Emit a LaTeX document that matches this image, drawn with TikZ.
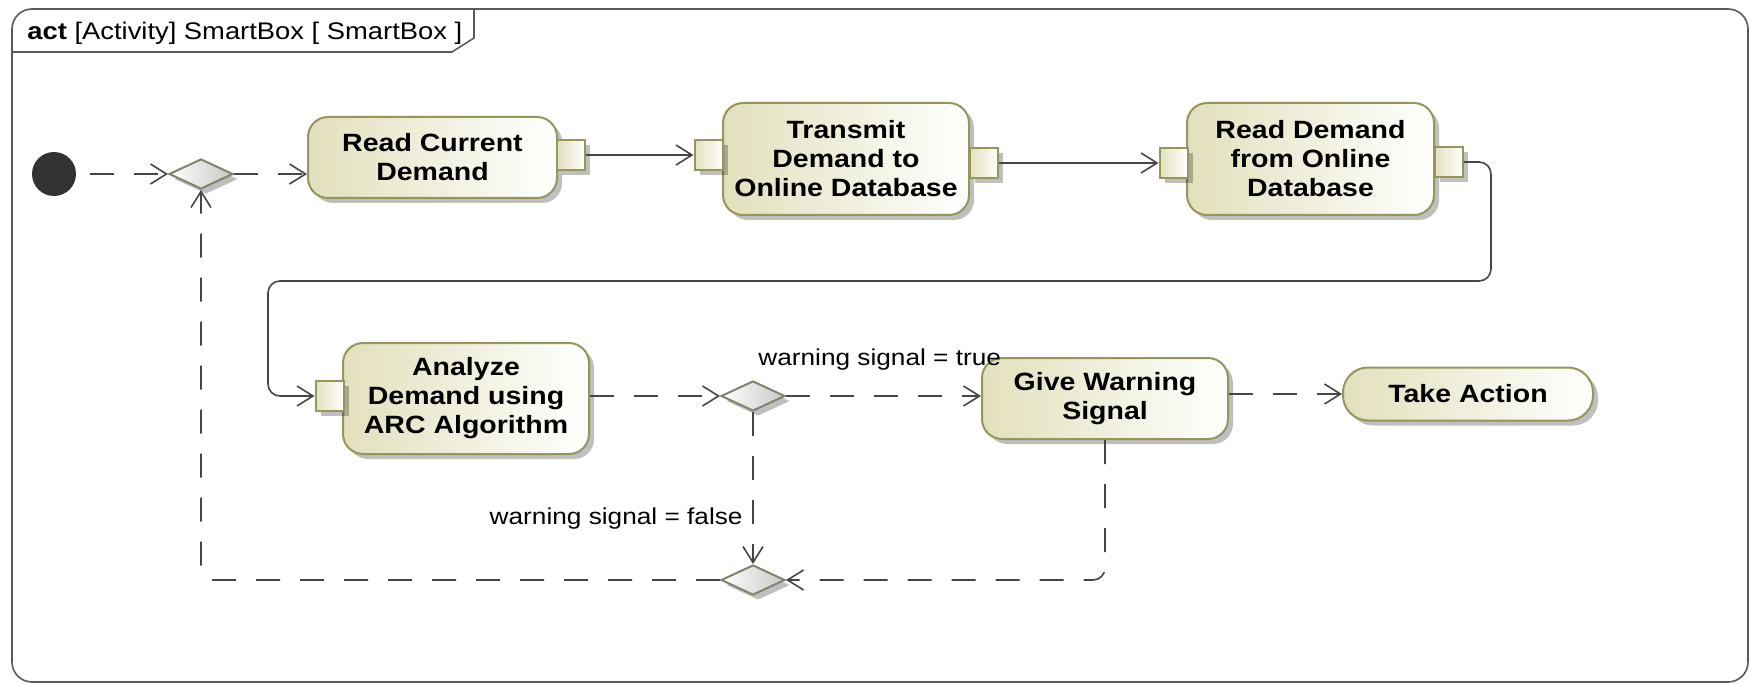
\documentclass[tikz,border=0pt]{standalone}
\usepackage{fontspec}
\setmainfont{Liberation Sans}[FakeStretch=1.14]
\usetikzlibrary{shapes.geometric,arrows.meta,shadows}
\definecolor{boxborder}{RGB}{150,150,90}
\definecolor{boxfill}{RGB}{226,224,188}
\definecolor{linec}{RGB}{70,70,70}
\definecolor{framec}{RGB}{90,90,90}
\definecolor{diafill}{RGB}{200,200,200}
\definecolor{diaborder}{RGB}{130,130,110}
\definecolor{initc}{RGB}{50,50,50}
\begin{document}
\begin{tikzpicture}[x=0.5pt,y=-0.5pt,
  shad/.style={drop shadow={shadow xshift=2.5pt,shadow yshift=-2.5pt,fill=black,opacity=0.25}},
  action/.style={draw=boxborder, line width=1pt, rounded corners=10pt, left color=boxfill, right color=white,
    align=center, font=\fontsize{12.5}{14.5}\selectfont\bfseries, inner sep=0pt, shad},
  pinbox/.style={draw=boxborder, line width=1pt, left color=boxfill, right color=white,
    minimum width=14pt, minimum height=15pt, inner sep=0pt, shad},
  decision/.style={diamond, draw=diaborder, line width=1pt, left color=white, right color=diafill,
    minimum width=32pt, minimum height=15pt, shape aspect=2.2, inner sep=0pt, shad},
  flow/.style={draw=linec, line width=0.8pt, -{Straight Barb[length=8pt,width=10pt]}},
  cflow/.style={flow, dash pattern=on 12pt off 10pt},
  guard/.style={font=\fontsize{11.5}{13}\selectfont, inner sep=0pt}
]
\useasboundingbox (0,0) rectangle (1750,684);
% frame
\draw[framec, line width=0.8pt, rounded corners=10pt] (12,9) rectangle (1748,682);
\draw[framec, line width=0.8pt] (12,52) -- (452,52) -- (474,38) -- (474,9);
\node[anchor=base west, font=\fontsize{12}{14}\selectfont, inner sep=0pt] (title) at (27,40)
  {\textbf{act} [Activity] SmartBox [ SmartBox ]};

% nodes
\node[circle, fill=initc, minimum size=22pt, inner sep=0pt] (init) at (54,174) {};
\node[decision] (d1) at (201,174) {};
\node[action, minimum width=124.5pt, minimum height=40.5pt] (rc) at (432.5,157.5) {Read Current\\Demand};
\node[pinbox] (rcpin) at (571,155) {};
\node[action, minimum width=123pt, minimum height=56pt] (tr) at (846,159) {Transmit\\Demand to\\Online Database};
\node[pinbox] (tin) at (708.5,155) {};
\node[pinbox] (tout) at (984,163) {};
\node[action, minimum width=123.5pt, minimum height=56pt] (rd) at (1310.5,159) {Read Demand\\from Online\\Database};
\node[pinbox] (rdin) at (1173.5,163) {};
\node[pinbox] (rdout) at (1448.5,162) {};
\node[action, minimum width=123pt, minimum height=55.5pt] (an) at (466,398.5) {Analyze\\Demand using\\ARC Algorithm};
\node[pinbox] (ain) at (329.5,396) {};
\node[decision] (d2) at (753,396) {};
\node[action, minimum width=123pt, minimum height=40.5pt] (gw) at (1105,398.5) {Give Warning\\Signal};
\node[action, rounded corners=12.5pt, minimum width=125pt, minimum height=26.5pt] (ta) at (1468,394) {Take Action};
\node[decision] (d3) at (753,580) {};

\coordinate (r1) at (1491,281);
\coordinate (r2) at (268,281);

% guards
\node[guard, anchor=base west] (gtrue) at (758,365) {warning signal = true};
\node[guard, anchor=base east] (gfalse) at (743,524) {warning signal = false};

% edges
\draw[cflow, dash phase=15pt] (init) -- (d1);
\draw[cflow] (d1.east) -- (rc.west |- d1);
\draw[flow] (rcpin.east) -- (tin.west);
\draw[flow] (tout.east) -- (rdin.west);
\draw[flow, rounded corners=6pt] (rdout.east) -| (r1) -- (r2) |- (ain.west);
\draw[cflow] (an.east |- d2) -- (d2.west);
\draw[cflow] (d2.east) -- (gw.west |- d2);
\draw[cflow] (gw.east |- ta) -- (ta.west);
\draw[cflow] (d2.south) -- (d3.north);
\draw[cflow, rounded corners=6pt] (gw.south) |- (d3.east);
\draw[cflow, rounded corners=6pt] (d3.west) -| (d1.south);
\end{tikzpicture}
\end{document}
